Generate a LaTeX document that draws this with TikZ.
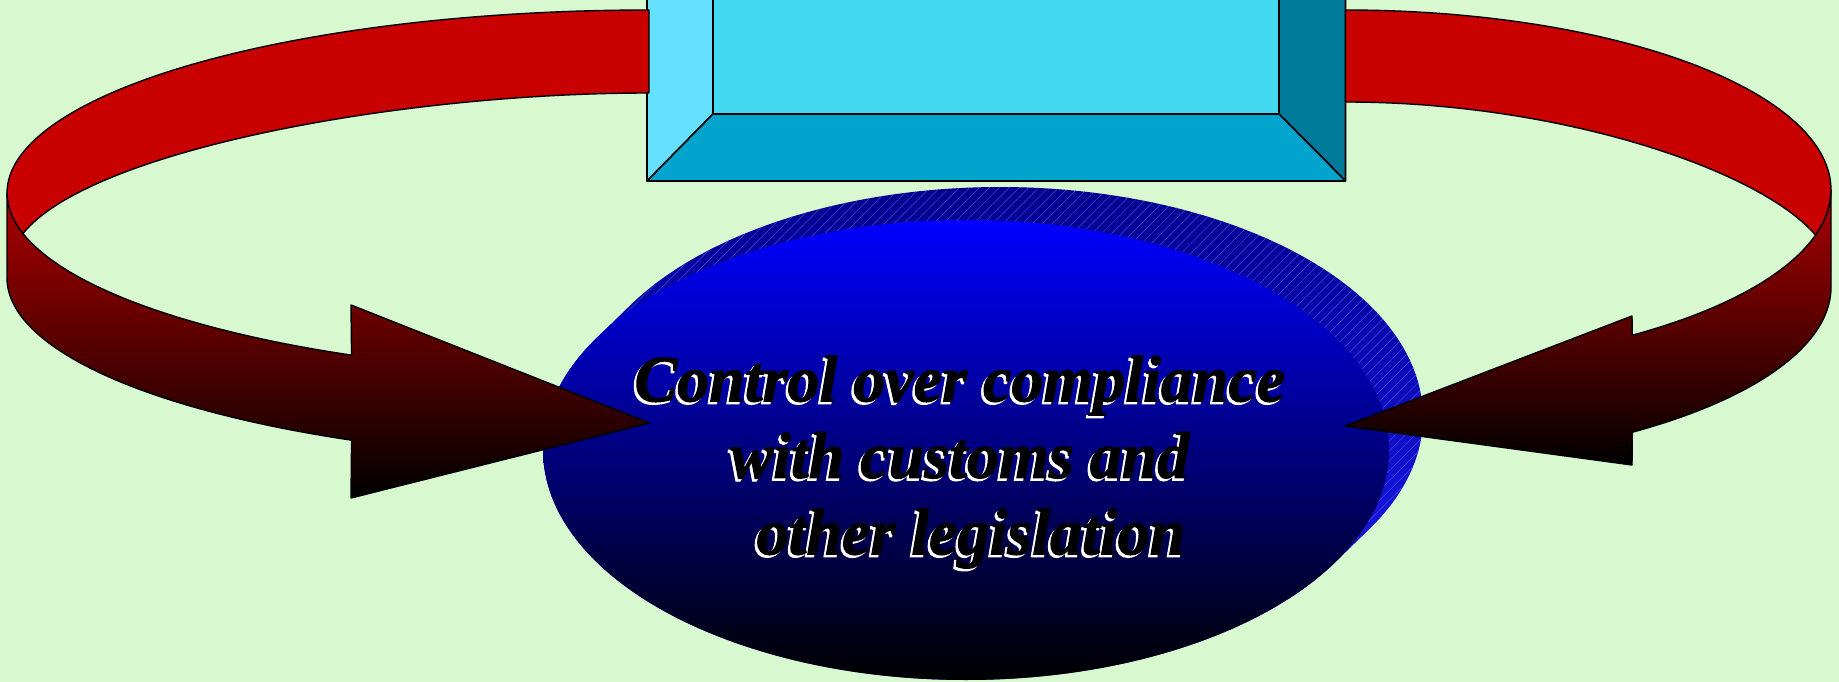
\documentclass[tikz,border=0pt]{standalone}
\usepackage{fontspec}
\newfontfamily\capfont[FakeStretch=0.97,FakeBold=1.6]{Liberation Serif Bold Italic}
\usetikzlibrary{patterns.meta}
\definecolor{bgc}{RGB}{216,248,208}
\definecolor{redA}{RGB}{200,0,0}
\definecolor{redB}{RGB}{172,0,0}
\definecolor{redM}{RGB}{110,0,0}
\definecolor{boxL}{RGB}{102,224,255}
\definecolor{boxF}{RGB}{66,217,240}
\definecolor{boxB}{RGB}{0,164,204}
\definecolor{boxR}{RGB}{0,122,153}
\definecolor{blueT}{RGB}{0,0,255}
\definecolor{blueM}{RGB}{0,0,200}
\definecolor{sideT}{RGB}{0,0,140}
\definecolor{sideB}{RGB}{30,30,255}
\definecolor{hatch}{RGB}{70,70,235}
\begin{document}
\begin{tikzpicture}[x=1pt,y=-1pt,
  outline/.style={draw=black, line width=1.4pt, line join=round},
  redtop/.style={outline, fill=redA},
  reddark/.style={outline, top color=redB, middle color=redM, bottom color=black},
  boxface/.style={draw=black, line width=1.6pt, line join=round, fill=#1},
  sideface/.style={top color=sideT, bottom color=sideB,
     postaction={pattern={Lines[angle=45,distance=7pt,line width=0.5pt]}, pattern color=hatch}},
  frontface/.style={top color=blueT, middle color=blueM, bottom color=black},
  caption/.style={font=\capfont\fontsize{66pt}{76.5pt}\selectfont,
     align=center, inner sep=0pt, anchor=center}
]
\useasboundingbox (0,0) rectangle (1839,682);
\fill[bgc] (0,0) rectangle (1839,682);
\clip (0,0) rectangle (1839,682);

% ---- top box (bevel) ----
\path[boxface=boxF] (713,-5) rectangle (1279,114);
\path[boxface=boxL] (647,-5) -- (713,-5) -- (713,114) -- (647,181) -- cycle;
\path[boxface=boxR] (1279,-5) -- (1345.5,-5) -- (1345.5,181) -- (1279,114) -- cycle;
\path[boxface=boxB] (647,181) -- (713,114) -- (1279,114) -- (1345.5,181) -- cycle;

% ---- blue disc ----
\path[sideface] plot[domain=209.26:389.26,samples=100,variable=\t] ({1000+423*cos(\t)},{417+230*sin(\t)})
   -- plot[domain=29.26:209.26,samples=100,variable=\t] ({966+423*cos(\t)},{450+230*sin(\t)}) -- cycle;
\path[frontface] (966,450) ellipse [x radius=423pt, y radius=230pt];

% ---- text ----
\node[caption, text=white] (labelshadow) at (957.5,464.5) {Control over compliance\\with customs and\\\hspace*{22pt}other legislation};
\node[caption, text=black] (label) at (960,462) {Control over compliance\\with customs and\\\hspace*{22pt}other legislation};

% ---- left curved arrow ----
\path[redtop] plot[domain=270:167.2,samples=80,variable=\t] ({649+642*cos(\t)},{193+183*sin(\t)})
   .. controls (90,150) and (400,93) .. (649,93) -- cycle;
\path[reddark] (7,193) -- (7,278)
   -- plot[domain=180:117.6,samples=60,variable=\t] ({649+642*cos(\t)},{278+183*sin(\t)})
   -- (351,498) -- (649.5,423) -- (351,305)
   -- plot[domain=117.6:180,samples=60,variable=\t] ({649+642*cos(\t)},{193+183*sin(\t)}) -- cycle;

% ---- right curved arrow ----
\path[redtop] plot[domain=270:374.5,samples=80,variable=\t] ({1345.5+485.5*cos(\t)},{190+180*sin(\t)})
   .. controls (1760,170) and (1560,102) .. (1345.5,102) -- cycle;
\path[reddark] (1831,190) -- (1831,287)
   -- plot[domain=0:53.8,samples=60,variable=\t] ({1345.5+485.5*cos(\t)},{287+180*sin(\t)})
   -- (1632,465) -- (1345,426) -- (1632,316)
   -- plot[domain=53.8:0,samples=60,variable=\t] ({1345.5+485.5*cos(\t)},{190+180*sin(\t)}) -- cycle;
\end{tikzpicture}
\end{document}
